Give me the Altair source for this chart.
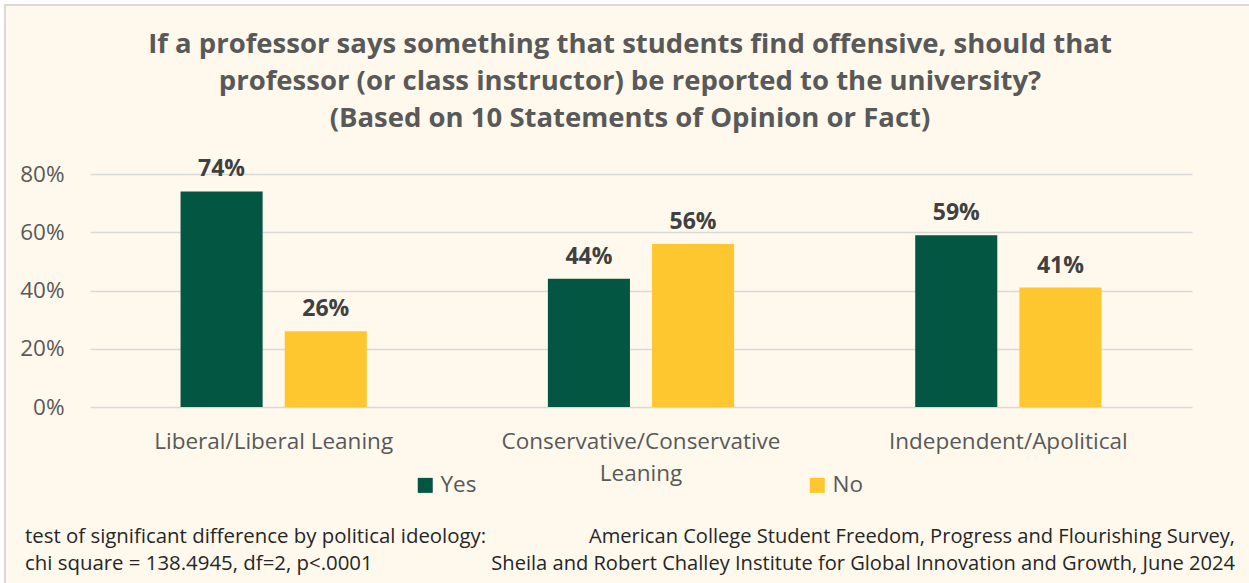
import altair as alt
import pandas as pd

categories = ["Liberal/Liberal Leaning", "Conservative/Conservative Leaning", "Independent/Apolitical"]
series = ["Yes", "No"]
yes_values = [0.74, 0.44, 0.59]
no_values = [0.26, 0.56, 0.41]
colors = ["#035642", "#FFC72F"]
y_ticks = [0, 0.2, 0.4, 0.6, 0.8]
title_lines = [
    "If a professor says something that students find offensive, should that",
    "professor (or class instructor) be reported to the university?",
    "(Based on 10 Statements of Opinion or Fact)",
]
note_left = ["test of significant difference by political ideology:", "chi square = 138.4945, df=2, p<.0001"]
note_right = ["American College Student Freedom, Progress and Flourishing Survey,",
              "Sheila and Robert Challey Institute for Global Innovation and Growth, June 2024"]

rows = []
for c, y, n in zip(categories, yes_values, no_values):
    rows.append({"category": c, "series": "Yes", "value": y})
    rows.append({"category": c, "series": "No", "value": n})
df = pd.DataFrame(rows)
df["label"] = (df["value"] * 100).round().astype(int).astype(str) + "%"

FONT = "Open Sans"
W, H = 1102, 233

x_enc = alt.X("category:N", sort=categories,
              scale=alt.Scale(paddingInner=0.493, paddingOuter=0.2465),
              axis=alt.Axis(title=None, labelAngle=0, labelFontSize=22.5, labelColor="#595959",
                            labelFont=FONT, ticks=False, domain=False, labelPadding=23,
                            labelLineHeight=32, labelLimit=0,
                            labelExpr="datum.value == 'Conservative/Conservative Leaning' ? ['Conservative/Conservative', 'Leaning'] : datum.value"))
xoff = alt.XOffset("series:N", sort=series, scale=alt.Scale(paddingInner=0.212))
y_enc = alt.Y("value:Q", scale=alt.Scale(domain=[0, 0.8], nice=False),
              axis=alt.Axis(title=None, format=".0%", values=y_ticks, labelFontSize=22.5,
                            labelColor="#595959", labelFont=FONT, ticks=False, domain=False,
                            labelPadding=26, gridColor="#D9D9D9", gridWidth=1.5))

base = alt.Chart(df)
bars = base.mark_bar().encode(
    x=x_enc, xOffset=xoff, y=y_enc,
    color=alt.Color("series:N", sort=series,
                    scale=alt.Scale(domain=series, range=colors),
                    legend=alt.Legend(title=None, orient="none", legendX=324, legendY=300,
                                      direction="horizontal", symbolType="square",
                                      symbolSize=225, symbolStrokeWidth=0,
                                      labelFontSize=22.5, labelColor="#595959", labelFont=FONT,
                                      columnPadding=329, labelOffset=4)),
)
labels = base.mark_text(fontSize=23, fontWeight="bold", color="#404040", font=FONT,
                        baseline="alphabetic", dy=-15).encode(
    x=x_enc, xOffset=xoff, y=y_enc, text="label:N")

one = alt.Data(values=[{}])
white_left = alt.Chart(one).mark_rect(fill="white").encode(
    x=alt.value(-95), x2=alt.value(-86), y=alt.value(-180), y2=alt.value(420))
white_top = alt.Chart(one).mark_rect(fill="white").encode(
    x=alt.value(-95), x2=alt.value(1200), y=alt.value(-180), y2=alt.value(-170))
border = alt.Chart(one).mark_rect(fillOpacity=0, stroke="#D9D9D9", strokeWidth=2).encode(
    x=alt.value(-85), x2=alt.value(1200), y=alt.value(-169), y2=alt.value(500))

title = alt.Chart(one).mark_text(align="center", baseline="middle", fontSize=27.5, fontWeight="bold",
                                 color="#595959", font=FONT, lineHeight=37, text=title_lines).encode(
    x=alt.value(540), y=alt.value(-129))

foot_l = alt.Chart(one).mark_text(align="left", baseline="middle", fontSize=20.4, color="#262626",
                                  font=FONT, lineHeight=27, text=note_left).encode(
    x=alt.value(-65), y=alt.value(363))
foot_r = alt.Chart(one).mark_text(align="right", baseline="middle", fontSize=20.1, color="#262626",
                                  font=FONT, lineHeight=27, text=note_right).encode(
    x=alt.value(1145), y=alt.value(363))

chart = alt.layer(white_left, white_top, border, bars, labels, title, foot_l, foot_r).properties(
    width=W, height=H,
    autosize=alt.AutoSizeParams(type="none"),
    padding={"left": 90, "top": 174, "right": 57, "bottom": 176},
    background="#FEF9EC",
).configure_view(stroke=None)

chart.save("out.html", embed_options={"renderer": "svg", "actions": False})
